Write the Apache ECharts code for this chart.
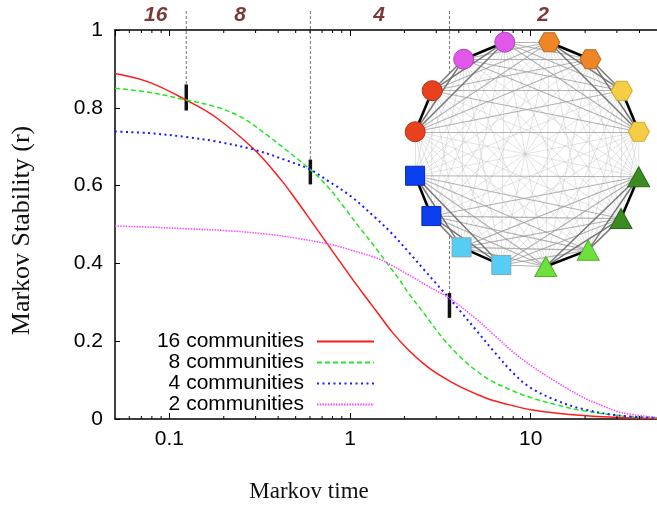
<!DOCTYPE html>
<html><head><meta charset="utf-8">
<script src="https://cdn.jsdelivr.net/npm/echarts@6/dist/echarts.min.js"></script>
<style>html,body{margin:0;padding:0;background:#fff}#c{width:657px;height:508px}</style>
</head><body><div id="c"></div>
<script>
// ---- data ----
const seriesNames = ['16 communities', '8 communities', '4 communities', '2 communities'];
const stab16 = [[0.05,0.888],[0.077,0.866],[0.124,0.82],[0.179,0.777],[0.296,0.692],[0.413,0.616],[0.5,0.565],[0.603,0.512],[0.776,0.44],[1.0,0.368],[1.2,0.318],[1.4,0.277],[1.72,0.222],[2.12,0.176],[2.62,0.138],[3.2,0.11],[3.98,0.085],[5,0.064],[6.06,0.049],[8,0.034],[10,0.024],[14,0.015],[19.6,0.009],[30,0.004],[50,0.0015]];
const stab8 = [[0.05,0.850],[0.077,0.840],[0.124,0.82],[0.179,0.803],[0.25,0.776],[0.336,0.735],[0.45,0.689],[0.603,0.641],[0.75,0.598],[0.918,0.547],[1.13,0.492],[1.4,0.437],[1.58,0.404],[1.85,0.362],[2.12,0.322],[2.62,0.266],[3.23,0.21],[4.1,0.158],[5,0.124],[6.06,0.098],[8,0.072],[10,0.055],[14,0.036],[19.6,0.021],[32,0.008],[50,0.003]];
const stab4 = [[0.05,0.739],[0.077,0.735],[0.124,0.725],[0.179,0.714],[0.296,0.692],[0.45,0.664],[0.603,0.641],[0.75,0.613],[1.0,0.574],[1.4,0.515],[1.72,0.475],[2.12,0.428],[2.62,0.379],[3.0,0.348],[3.55,0.31],[4.2,0.27],[4.91,0.232],[6.3,0.172],[8,0.118],[10,0.08],[14,0.047],[19.6,0.025],[32,0.008],[50,0.003]];
const stab2 = [[0.05,0.496],[0.08,0.493],[0.125,0.489],[0.211,0.484],[0.35,0.475],[0.5,0.465],[0.776,0.449],[1.0,0.435],[1.4,0.414],[1.58,0.403],[2.12,0.37],[2.62,0.345],[3.55,0.31],[4.91,0.26],[6.3,0.215],[8,0.172],[10,0.138],[14,0.094],[19.6,0.055],[25,0.034],[32,0.016],[50,0.004]];
const xMin = 0.05, xMax = 50;
const yTicks = [0, 0.2, 0.4, 0.6, 0.8, 1];
const majorTicks = [0.1, 1, 10];
const minorTicks = [0.06,0.07,0.08,0.09,0.2,0.3,0.4,0.5,0.6,0.7,0.8,0.9,2,3,4,5,6,7,8,9,20,30,40];
// community-count labels on top, and marked transitions
const topLabelX = [0.084, 0.246, 1.45, 11.7];
const topLabels = ['16', '8', '4', '2'];
const markerX = [0.124, 0.603, 3.55];
const markerTop = [0.86, 0.667, 0.324];
const markerBottom = [0.793, 0.603, 0.26];
// network inset: 16 nodes, grouped in pairs -> quads -> halves
const pairColors = ['#3b8a22', '#6ee03e', '#55cdf4', '#0a40ef', '#e8411e', '#e157e9', '#ee8628', '#f6ce46'];
const pairBorders = ['#2b6a18', '#4fb02a', '#7fa8b8', '#0a2ab0', '#b83015', '#b040b8', '#c06a1c', '#d4aa30'];
const pairShapes = ['triangle', 'triangle', 'rect', 'rect', 'circle', 'circle', 'hexagon', 'hexagon'];
const nodeCount = 16;

// ---- build ----
const hexPath = 'path://M0,8 L4.5,0 L13.5,0 L18,8 L13.5,16 L4.5,16 Z';
const shapeSize = {triangle: [22, 20], rect: [19, 19], circle: 20, hexagon: [21, 19]};
const shapeSymbol = {triangle: 'triangle', rect: 'rect', circle: 'circle', hexagon: hexPath};
const nodes = [];
for (let i = 0; i < nodeCount; i++) {
  const p = Math.floor(i / 2);
  nodes.push({
    name: 'n' + i,
    symbol: shapeSymbol[pairShapes[p]],
    symbolSize: shapeSize[pairShapes[p]],
    itemStyle: {color: pairColors[p], borderColor: pairBorders[p], borderWidth: 1}
  });
}
const levelStyles = [
  {color: '#000', width: 2.6, opacity: 1},
  {color: '#6a6a6a', width: 1.5, opacity: 0.9},
  {color: '#999', width: 1.1, opacity: 0.75},
  {color: '#c4c4c4', width: 0.8, opacity: 0.6}
];
const links = [];
for (let i = 0; i < nodeCount; i++) {
  for (let j = i + 1; j < nodeCount; j++) {
    let lv = 3;
    if ((i >> 1) === (j >> 1)) lv = 0;
    else if ((i >> 2) === (j >> 2)) lv = 1;
    else if ((i >> 3) === (j >> 3)) lv = 2;
    links.push({source: 'n' + i, target: 'n' + j, lineStyle: levelStyles[lv]});
  }
}
links.sort((a, b) => a.lineStyle.width - b.lineStyle.width);

const FONT = 'Liberation Sans';
const SERIF = 'Liberation Serif';
const chart = echarts.init(document.getElementById('c'), null, {renderer: 'canvas'});

const lineSeries = (name, data, color, type, width) => ({
  name, type: 'line', data, xAxisIndex: 0, yAxisIndex: 0,
  symbol: 'none', showSymbol: false, smooth: 0.35, z: 2,
  lineStyle: {color, width, type}, itemStyle: {color}
});

const option = {
  animation: false,
  backgroundColor: '#fff',
  grid: {left: 115, top: 30, width: 549, height: 391, containLabel: false},
  xAxis: [{
    type: 'log', min: xMin, max: xMax, position: 'bottom',
    name: 'Markov time', nameLocation: 'middle', nameGap: 61,
    nameTextStyle: {fontFamily: SERIF, fontSize: 23, color: '#111', padding: [0, 154, 0, 0]},
    axisLine: {show: true, lineStyle: {color: '#000', width: 1.5}},
    axisTick: {show: true, inside: true, length: 6, lineStyle: {color: '#000', width: 1}},
    axisLabel: {
      fontFamily: FONT, fontSize: 21, color: '#000', margin: 10,
      showMinLabel: false, showMaxLabel: false,
      formatter: v => majorTicks.some(m => Math.abs(m - v) / m < 1e-6) ? String(+v.toPrecision(3)) : ''
    },
    splitLine: {show: false}, minorTick: {show: false}
  }, {
    type: 'log', min: xMin, max: xMax, position: 'top',
    axisLine: {show: true, lineStyle: {color: '#000', width: 1.5}},
    axisTick: {show: true, inside: true, length: 6, lineStyle: {color: '#000', width: 1}},
    axisLabel: {show: false}, splitLine: {show: false}
  }],
  yAxis: [{
    type: 'value', min: yTicks[0], max: yTicks[yTicks.length - 1], interval: 0.2,
    name: 'Markov Stability (r)', nameLocation: 'middle', nameGap: 80,
    nameTextStyle: {fontFamily: SERIF, fontSize: 26, color: '#111', padding: [0, 12, 0, 0]},
    axisLine: {show: true, lineStyle: {color: '#000', width: 1.5}},
    axisTick: {show: true, inside: true, length: 5, lineStyle: {color: '#000', width: 1}},
    axisLabel: {fontFamily: FONT, fontSize: 21, color: '#000', margin: 12},
    splitLine: {show: false}
  }],
  legend: {
    orient: 'vertical', align: 'right', right: 282, top: 331, padding: 0,
    itemWidth: 57, itemHeight: 14, itemGap: 0, selectedMode: false,
    itemStyle: {opacity: 0},
    textStyle: {fontFamily: FONT, fontSize: 21, color: '#000', padding: [0, 8, 0, 0], lineHeight: 20.5},
    data: seriesNames
  },
  graphic: [{
    type: 'circle', shape: {cx: 527, cy: 154, r: 112}, style: {fill: '#fff'}, z: 3, silent: true
  }],
  series: [
    lineSeries(seriesNames[0], stab16, '#ff1a1a', 'solid', 1.5),
    lineSeries(seriesNames[1], stab8, '#22e822', [5, 3], 1.5),
    lineSeries(seriesNames[2], stab4, '#1a1aff', [2, 3.5], 2),
    lineSeries(seriesNames[3], stab2, '#ff44ff', [1.5, 1.2], 1.5),
    {
      type: 'custom', name: 'minor ticks', xAxisIndex: 0, yAxisIndex: 0, z: 4, silent: true,
      data: minorTicks.map(v => [v, 0]),
      renderItem: (params, api) => {
        const v = api.value(0);
        const b = api.coord([v, 0]), t = api.coord([v, 1]);
        return {type: 'group', children: [
          {type: 'line', shape: {x1: b[0], y1: b[1], x2: b[0], y2: b[1] - 3}, style: {stroke: '#000', lineWidth: 1}},
          {type: 'line', shape: {x1: t[0], y1: t[1], x2: t[0], y2: t[1] + 3}, style: {stroke: '#000', lineWidth: 1}}
        ]};
      }
    },
    {
      type: 'custom', name: 'transitions', xAxisIndex: 0, yAxisIndex: 0, z: 2, silent: true, clip: false,
      data: markerX.map((x, i) => [x, markerTop[i], markerBottom[i]]),
      renderItem: (params, api) => {
        const x = api.value(0);
        const a = api.coord([x, api.value(1)]), b = api.coord([x, api.value(2)]);
        const top = api.coord([x, 1])[1] - 19;
        return {type: 'group', children: [
          {type: 'line', shape: {x1: a[0], y1: top, x2: a[0], y2: a[1]}, style: {stroke: '#777', lineWidth: 1, lineDash: [3, 2]}},
          {type: 'line', shape: {x1: a[0], y1: a[1], x2: b[0], y2: b[1]}, style: {stroke: '#111', lineWidth: 3.5}}
        ]};
      }
    },
    {
      type: 'custom', name: 'community labels', xAxisIndex: 0, yAxisIndex: 0, z: 5, silent: true, clip: false,
      data: topLabelX.map((x, i) => [x, 1, topLabels[i]]),
      renderItem: (params, api) => {
        const p = api.coord([api.value(0), 1]);
        return {type: 'text', x: p[0], y: p[1] - 15, style: {
          text: topLabels[params.dataIndex], fill: '#7a3b36', font: 'italic bold 21px "Liberation Sans"',
          textAlign: 'center', textVerticalAlign: 'middle'
        }};
      }
    },
    {
      type: 'graph', layout: 'circular', left: 410, top: 40, width: 234, height: 228, z: 6,
      silent: true, roam: false, label: {show: false}, emphasis: {disabled: true},
      data: nodes, links: links, lineStyle: {curveness: 0}
    }
  ]
};
chart.setOption(option);
</script></body></html>
